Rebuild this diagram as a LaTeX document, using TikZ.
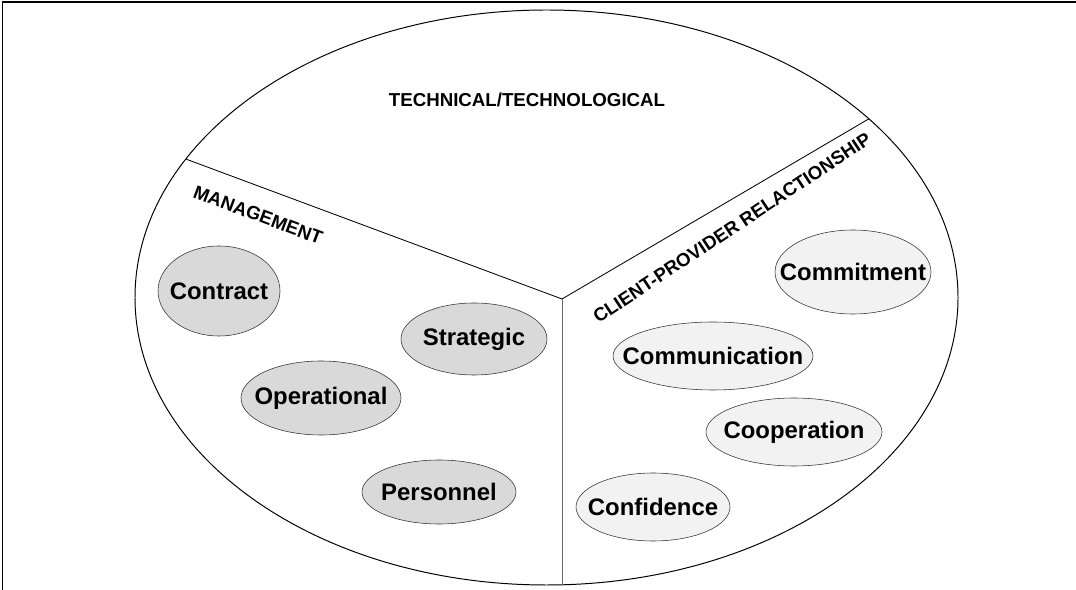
\documentclass[tikz,border=0pt]{standalone}
\usepackage{fontspec}
\setmainfont{Liberation Sans}
\usetikzlibrary{shapes.geometric}
\definecolor{mgmtgray}{HTML}{D9D9D9}
\definecolor{relgray}{HTML}{F2F2F2}
\begin{document}
\begin{tikzpicture}[
  area/.style={font=\bfseries\fontsize{13.3pt}{15pt}\selectfont},
  mgmt/.style={draw=black!80, ellipse, fill=mgmtgray, inner sep=0pt,
    font=\bfseries\fontsize{17pt}{20pt}\selectfont},
  rel/.style={mgmt, fill=relgray}
]
\useasboundingbox (0,0) rectangle (26.9,14.75);
\draw[line width=1.4pt] (0.0625,0) -- (0.0625,14.69) -- (26.9,14.69);

\node[draw, line width=0.7pt, ellipse, minimum width=20.575cm, minimum height=14.375cm,
  inner sep=0pt, outer sep=0pt] (rim) at (13.6625,7.3125) {};
\coordinate (ctr) at (14.05,7.275);
\draw[line width=0.6pt] (ctr) -- (rim.159.45);
\draw[line width=0.6pt] (ctr) -- (rim.29.7);
\draw[line width=0.6pt, black!60] (ctr) -- (ctr |- rim.south);

\node[area] (tech) at (13.175,12.25) {TECHNICAL/TECHNOLOGICAL};
\node[area, rotate=-20.5] (man) at (6.45,9.375) {MANAGEMENT};
\node[area, rotate=33.5] (cpr) at (18.3,9.05) {CLIENT-PROVIDER RELACTIONSHIP};

\node[mgmt, minimum width=3.05cm, minimum height=2.25cm] (contract) at (5.475,7.475) {\makebox[0pt]{Contract}};
\node[mgmt, minimum width=3.65cm, minimum height=1.8cm] (strategic) at (11.85,6.275) {\makebox[0pt]{Strategic}};
\node[mgmt, minimum width=4cm, minimum height=1.85cm] (operational) at (8.025,4.8) {\makebox[0pt]{Operational}};
\node[mgmt, minimum width=3.85cm, minimum height=1.6cm] (personnel) at (10.975,2.45) {\makebox[0pt]{Personnel}};

\node[rel, minimum width=3.9cm, minimum height=2.1cm] (commitment) at (21.325,7.95) {\makebox[0pt]{Commitment}};
\node[rel, minimum width=5cm, minimum height=1.7cm] (communication) at (17.825,5.85) {\makebox[0pt]{Communication}};
\node[rel, minimum width=4.4cm, minimum height=1.7cm] (cooperation) at (19.85,3.95) {\makebox[0pt]{Cooperation}};
\node[rel, minimum width=3.85cm, minimum height=1.7cm] (confidence) at (16.325,2.075) {\makebox[0pt]{Confidence}};
\end{tikzpicture}
\end{document}
